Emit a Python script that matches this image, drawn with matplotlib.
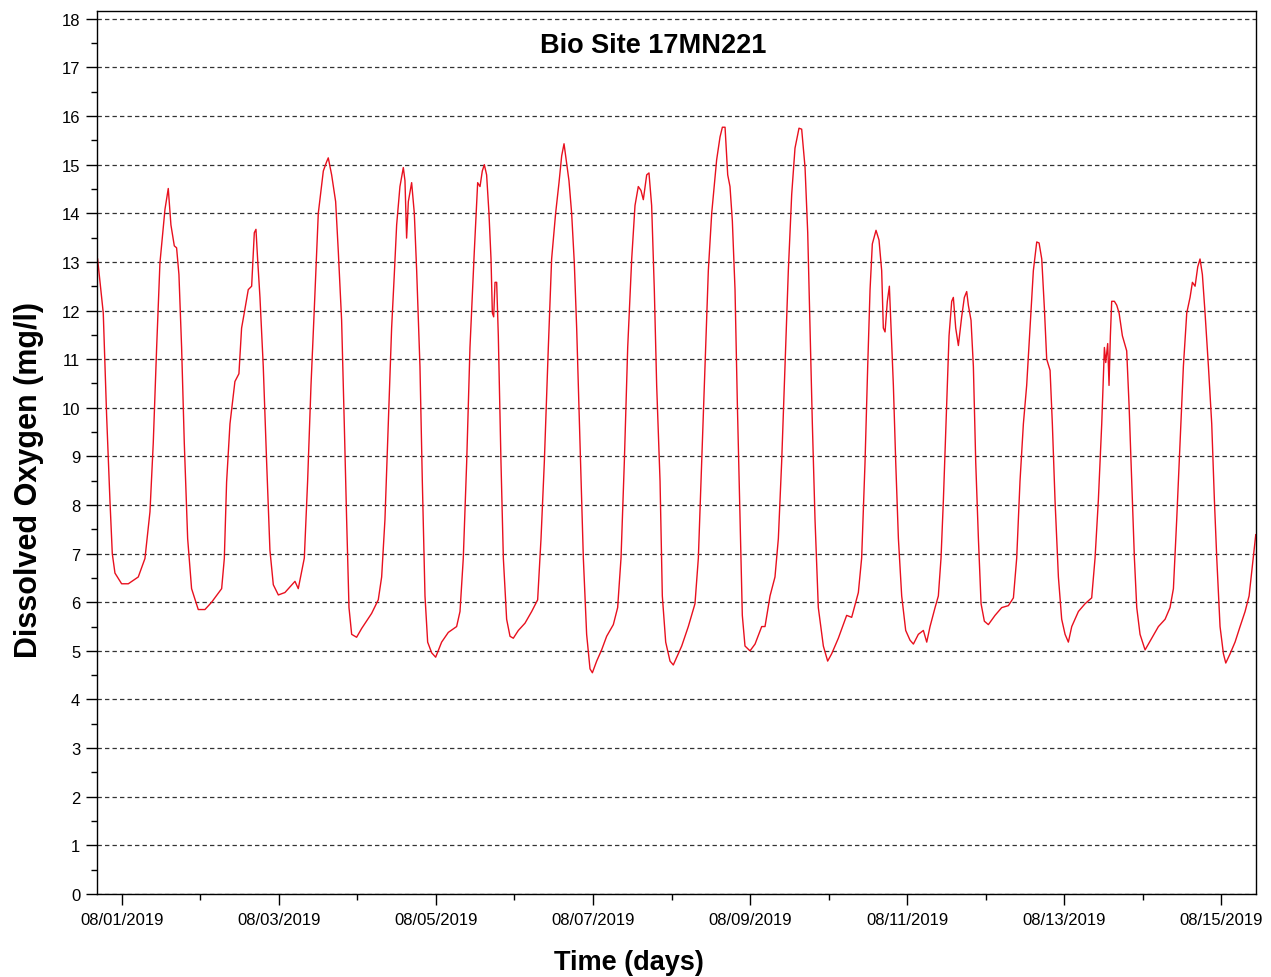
import matplotlib
matplotlib.use("Agg")
import matplotlib.pyplot as plt
import matplotlib.dates as mdates
from matplotlib.ticker import MultipleLocator
import pandas as pd

plt.rcParams['font.family'] = ['Liberation Sans', 'DejaVu Sans']

# Days elapsed since 2019-08-01 00:00
day_offset = [
    -0.310, -0.238, -0.195, -0.153, -0.123, -0.089, -0.004, 0.081, 0.208, 0.293,
    0.357, 0.399, 0.442, 0.484, 0.548, 0.590, 0.624, 0.667, 0.696, 0.726,
    0.760, 0.794, 0.837, 0.887, 0.972, 1.057, 1.142, 1.270, 1.304, 1.333,
    1.376, 1.439, 1.490, 1.524, 1.558, 1.609, 1.652, 1.686, 1.707, 1.728,
    1.758, 1.800, 1.843, 1.885, 1.928, 1.992, 2.076, 2.204, 2.246, 2.323,
    2.365, 2.408, 2.450, 2.501, 2.565, 2.607, 2.628, 2.671, 2.722, 2.756,
    2.798, 2.832, 2.862, 2.892, 2.926, 2.989, 3.053, 3.180, 3.265, 3.308,
    3.350, 3.393, 3.435, 3.469,
    3.499, 3.541, 3.584, 3.605, 3.626, 3.648, 3.690, 3.724, 3.754, 3.796,
    3.826, 3.860, 3.894, 3.945, 3.996, 4.072, 4.157, 4.263, 4.306, 4.348,
    4.391, 4.433, 4.488, 4.531, 4.561, 4.590, 4.616, 4.645, 4.675, 4.701,
    4.718, 4.735, 4.752, 4.773, 4.794, 4.828, 4.858, 4.900, 4.943, 4.985,
    5.049, 5.134, 5.219, 5.295, 5.338, 5.380, 5.431, 5.473, 5.524, 5.567,
    5.601, 5.631, 5.665, 5.694, 5.728, 5.762, 5.792, 5.834, 5.877, 5.919,
    5.962, 5.992, 6.047, 6.110, 6.174, 6.259, 6.314, 6.357, 6.399, 6.442,
    6.493, 6.535, 6.577, 6.611, 6.641, 6.684, 6.713, 6.747, 6.781, 6.811,
    6.854, 6.883, 6.926, 6.981, 7.023,
    7.130, 7.214, 7.299, 7.342, 7.384, 7.427, 7.469, 7.512, 7.575, 7.618,
    7.648, 7.682, 7.716, 7.745, 7.775, 7.809, 7.839, 7.873, 7.902, 7.936,
    8.000, 8.064, 8.149, 8.191, 8.255, 8.318, 8.361, 8.403, 8.446, 8.488,
    8.531, 8.573, 8.624, 8.658, 8.701, 8.735, 8.764, 8.794, 8.828, 8.870,
    8.934, 8.989, 9.040, 9.125, 9.231, 9.295, 9.380, 9.422, 9.465, 9.499,
    9.529, 9.558, 9.605, 9.643, 9.677, 9.698, 9.720, 9.749, 9.775, 9.796,
    9.826, 9.856, 9.890, 9.932, 9.983, 10.038, 10.081, 10.144, 10.208, 10.251,
    10.293, 10.357, 10.399, 10.433, 10.463, 10.505, 10.535, 10.569, 10.590, 10.620,
    10.654, 10.696, 10.730, 10.760,
    10.781, 10.815, 10.845, 10.875, 10.909, 10.943, 10.985, 11.036, 11.121, 11.206,
    11.291, 11.355, 11.397, 11.439, 11.482, 11.524, 11.567, 11.609, 11.652, 11.682,
    11.716, 11.750, 11.779, 11.822, 11.851, 11.885, 11.928, 11.970, 12.013, 12.055,
    12.098, 12.183, 12.268, 12.352, 12.395, 12.437, 12.480, 12.514, 12.531, 12.556,
    12.573, 12.590, 12.607, 12.641, 12.671, 12.701, 12.743, 12.798, 12.828, 12.862,
    12.896, 12.926, 12.968, 13.032, 13.117, 13.202, 13.287, 13.350, 13.393, 13.435,
    13.478, 13.520, 13.563, 13.605, 13.635, 13.669, 13.703, 13.732, 13.762, 13.796,
    13.839, 13.881, 13.915, 13.945, 13.987, 14.030, 14.060, 14.115, 14.178, 14.242,
    14.306, 14.357, 14.399, 14.442,
]

# Dissolved oxygen (mg/l)
do_mgl = [
    13.06, 11.95, 9.83, 8.10, 7.00, 6.60, 6.38, 6.38, 6.52, 6.90,
    7.86, 9.28, 11.24, 12.98, 14.08, 14.51, 13.76, 13.33, 13.29, 12.74,
    11.24, 9.28, 7.31, 6.28, 5.85, 5.85, 6.00, 6.28, 6.90, 8.47,
    9.67, 10.54, 10.70, 11.64, 11.95, 12.43, 12.50, 13.60, 13.67, 13.06,
    12.27, 10.85, 8.88, 7.07, 6.36, 6.15, 6.20, 6.43, 6.28, 6.91,
    8.49, 10.46, 12.03, 14.00, 14.87, 15.06, 15.14, 14.79, 14.24, 13.21,
    11.80, 9.67, 7.70, 5.89, 5.34, 5.28, 5.46, 5.77, 6.05, 6.52,
    7.70, 9.67, 11.64, 12.74,
    13.76, 14.55, 14.94, 14.67, 13.49, 14.24, 14.63, 14.00, 12.82, 10.85,
    8.49, 6.13, 5.18, 4.96, 4.87, 5.18, 5.38, 5.50, 5.81, 6.91,
    8.88, 11.24, 13.21, 14.63, 14.55, 14.87, 15.00, 14.79, 14.00, 13.06,
    11.95, 11.87, 12.58, 12.58, 11.48, 8.88, 6.91, 5.65, 5.30, 5.26,
    5.42, 5.57, 5.81, 6.05, 7.31, 8.88, 11.24, 13.06, 14.00, 14.63,
    15.18, 15.43, 15.02, 14.67, 14.00, 12.98, 11.64, 9.28, 6.91, 5.34,
    4.63, 4.55, 4.79, 5.02, 5.30, 5.54, 5.89, 6.91, 8.88, 11.24,
    13.06, 14.16, 14.55, 14.47, 14.28, 14.79, 14.83, 14.16, 12.43, 10.46,
    8.49, 6.13, 5.18, 4.79, 4.71,
    5.10, 5.50, 5.97, 6.91, 8.88, 10.85, 12.82, 14.00, 15.10, 15.57,
    15.77, 15.77, 14.79, 14.55, 13.84, 12.43, 10.06, 7.70, 5.73, 5.10,
    5.00, 5.14, 5.50, 5.50, 6.13, 6.52, 7.31, 8.88, 10.85, 12.82,
    14.39, 15.34, 15.75, 15.73, 14.94, 13.60, 11.64, 9.67, 7.70, 5.89,
    5.10, 4.79, 4.94, 5.26, 5.73, 5.69, 6.20, 6.91, 8.88, 10.85,
    12.43, 13.37, 13.65, 13.45, 12.82, 11.64, 11.56, 12.19, 12.50, 11.64,
    10.46, 8.88, 7.31, 6.13, 5.42, 5.22, 5.14, 5.34, 5.42, 5.18,
    5.50, 5.89, 6.13, 6.91, 8.10, 10.06, 11.48, 12.19, 12.27, 11.64,
    11.28, 11.87, 12.27, 12.39,
    12.11, 11.80, 10.85, 8.88, 7.31, 5.97, 5.61, 5.54, 5.73, 5.89,
    5.93, 6.09, 6.91, 8.49, 9.67, 10.46, 11.64, 12.82, 13.41, 13.39,
    13.06, 12.03, 11.00, 10.77, 9.67, 8.10, 6.52, 5.65, 5.34, 5.18,
    5.50, 5.81, 5.97, 6.09, 6.91, 8.10, 9.67, 11.24, 10.93, 11.32,
    10.46, 11.48, 12.19, 12.19, 12.11, 11.95, 11.48, 11.17, 10.06, 8.49,
    6.91, 5.89, 5.34, 5.02, 5.26, 5.50, 5.65, 5.89, 6.28, 7.70,
    9.28, 10.85, 11.95, 12.27, 12.58, 12.50, 12.90, 13.06, 12.74, 11.95,
    10.85, 9.67, 8.10, 6.91, 5.50, 4.94, 4.75, 4.94, 5.18, 5.50,
    5.81, 6.13, 6.76, 7.39,
]

base = pd.Timestamp("2019-08-01")
times = base + pd.to_timedelta(day_offset, unit="D")

fig = plt.figure(figsize=(12.71, 9.78), dpi=100)
ax = fig.add_axes([0.0763, 0.0849, 0.9119, 0.9028])

ax.plot(times, do_mgl, color="#e8101e", linewidth=1.0)

ax.set_xlim(base - pd.Timedelta(days=0.318), base + pd.Timedelta(days=14.445))
ax.set_ylim(0, 18.16)

ax.yaxis.set_major_locator(MultipleLocator(1))
ax.yaxis.set_minor_locator(MultipleLocator(0.5))
ax.xaxis.set_major_locator(mdates.DayLocator(bymonthday=list(range(1, 32, 2))))
ax.xaxis.set_minor_locator(mdates.DayLocator())
ax.xaxis.set_major_formatter(mdates.DateFormatter("%m/%d/%Y"))

ax.grid(axis="y", which="major", linestyle=(0, (3.5, 2.5)), color="#333333", linewidth=0.9)
ax.set_axisbelow(True)

ax.tick_params(axis="both", which="major", direction="out", length=8, width=1, labelsize=12, colors="black")
ax.tick_params(axis="both", which="minor", direction="out", length=4, width=1)
ax.tick_params(axis="y", pad=4)
ax.tick_params(axis="x", pad=5)

for s in ax.spines.values():
    s.set_color("black")
    s.set_linewidth(1.0)

ax.set_xlabel("Time (days)", fontsize=19.5, fontweight="bold")
ax.xaxis.set_label_coords(0.459, -0.0625)
ax.set_ylabel("Dissolved Oxygen (mg/l)", fontsize=22, fontweight="bold")
ax.yaxis.set_label_coords(-0.046, 0.47)
ax.text(0.48, 0.962, "Bio Site 17MN221", transform=ax.transAxes, ha="center", va="center",
        fontsize=19.5, fontweight="bold")

fig.savefig("out.png", dpi=100)
